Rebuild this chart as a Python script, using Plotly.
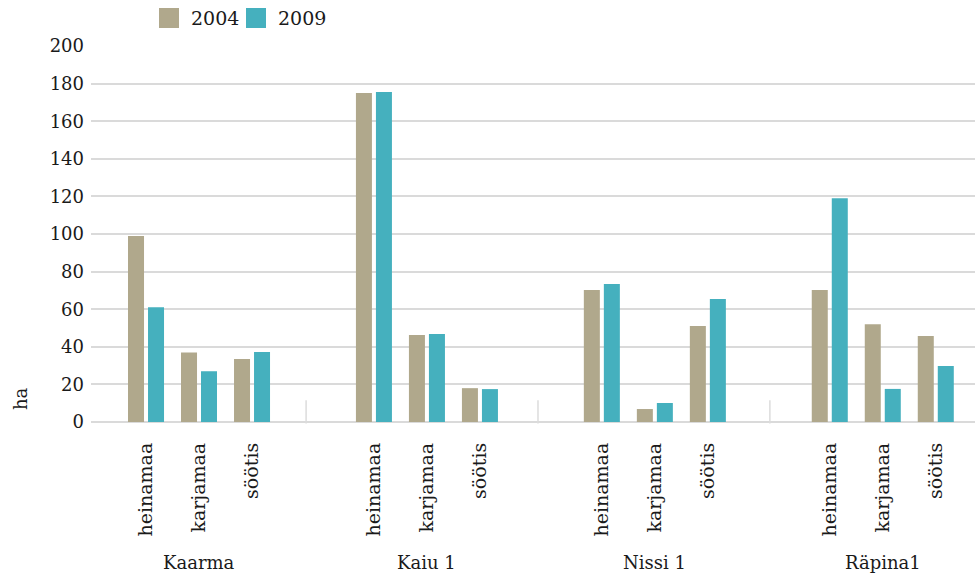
"""Grassland areas per farm, 2004 vs 2009 (grouped bars)."""

import plotly.graph_objects as go

# data
farms = ["Kaarma", "Kaiu 1", "Nissi 1", "Räpina1"]
land_types = ["heinamaa", "karjamaa", "söötis"]
years = ["2004", "2009"]

ha_2004 = [99, 37, 33.5,
           175, 46.3, 18,
           70.2, 6.9, 51,
           70.2, 52, 45.7]
ha_2009 = [61, 27, 37.2,
           175.5, 46.8, 17.5,
           73.4, 10.1, 65.4,
           119, 17.6, 29.8]

y_ticks = list(range(0, 201, 20))

colors = {"2004": "#b0a88c", "2009": "#45b0be"}
FONT = "DejaVu Serif"
TEXT = "#1a1a1a"
GROUP_STEP = 4.3  # category slots between the starts of two farms

# plot area in pixels (used to place the hand-made legend)
L, R, T, B = 91, 2, 46, 154
W, H = 977, 576
PW, PH = W - L - R, H - T - B

# x positions: one slot per land type, with a gap between farms
xpos = []
labels = []
for g, farm in enumerate(farms):
    for c, lt in enumerate(land_types):
        xpos.append(g * GROUP_STEP + c)
        labels.append(lt)

fig = go.Figure()
for year, vals in zip(years, [ha_2004, ha_2009]):
    fig.add_trace(
        go.Bar(
            x=xpos, y=vals, name=year, showlegend=False,
            marker=dict(color=colors[year], line=dict(width=0)),
        )
    )

# short separators between farms
for g in range(len(farms) - 1):
    sx = 3.02 + g * 4.375
    fig.add_shape(
        type="line", xref="x", yref="paper",
        x0=sx, x1=sx, y0=-0.004, y1=0.058,
        line=dict(color="#dcdcdc", width=1.5),
    )

# farm names under the middle land type
for g, farm in enumerate(farms):
    fig.add_annotation(
        x=g * GROUP_STEP + 1, xref="x", y=0, yref="paper",
        yshift=-140, yanchor="middle", text=farm, showarrow=False,
        font=dict(family=FONT, size=18, color=TEXT),
    )

# y axis title sits low, next to the zero line
fig.add_annotation(
    x=0, xref="paper", xshift=-71, xanchor="center",
    y=(422 - 399) / PH, yref="paper", yanchor="middle",
    text="ha", textangle=-90, showarrow=False,
    font=dict(family=FONT, size=18, color=TEXT),
)

# legend: big square swatches above the plot
legend_left = [159, 246]  # swatch left edge, px
for year, lx in zip(years, legend_left):
    fig.add_shape(
        type="rect", xref="paper", yref="paper",
        x0=(lx - L) / PW, x1=(lx + 20 - L) / PW,
        y0=(T + PH - 28) / PH - 0, y1=(T + PH - 8) / PH,
        fillcolor=colors[year], line=dict(width=0),
    )
    fig.add_annotation(
        x=(lx + 30 - L) / PW, xref="paper", xanchor="left",
        y=(T + PH - 18) / PH, yref="paper", yanchor="middle",
        text=year, showarrow=False,
        font=dict(family=FONT, size=19, color=TEXT),
    )

fig.update_layout(
    width=W, height=H,
    margin=dict(l=L, r=R, t=T, b=B),
    plot_bgcolor="white", paper_bgcolor="white",
    font=dict(family=FONT, size=18, color=TEXT),
    barmode="group", bargap=0.245, bargroupgap=0.2,
    showlegend=False,
    xaxis=dict(
        range=[-1.038, 15.64],
        tickmode="array", tickvals=xpos, ticktext=labels,
        tickangle=-90, ticks="", showgrid=False, zeroline=False,
        showline=False, ticklabelstandoff=16,
        tickfont=dict(size=19),
    ),
    yaxis=dict(
        range=[0, 200], tickvals=y_ticks,
        showgrid=True, gridcolor="#dadada", gridwidth=1.5,
        zeroline=True, zerolinecolor="#dadada", zerolinewidth=1.5,
        showline=False, ticks="", ticklabelstandoff=6,
    ),
)

# drop the page's default body margin so the figure sits at the top-left
fig.write_html(
    "out.html",
    config={"displayModeBar": False},
    post_script="document.body.style.margin='0';",
)
